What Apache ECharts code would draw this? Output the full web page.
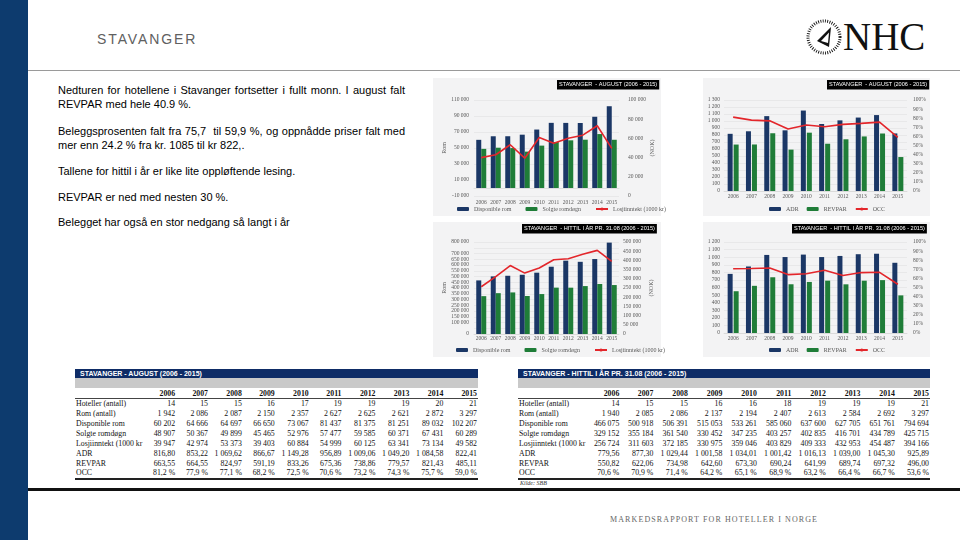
<!DOCTYPE html>
<html><head><meta charset="utf-8">
<script src="https://cdn.jsdelivr.net/npm/echarts@6/dist/echarts.min.js"></script>
<style>
body{margin:0;width:960px;height:540px;overflow:hidden;background:#fff;position:relative;font-family:'Liberation Sans',Arial,sans-serif;}
#bar{position:absolute;left:0;top:0;width:28px;height:540px;background:#0d3b6e;}
#title{position:absolute;left:97px;top:31px;font-size:14px;letter-spacing:1.9px;color:#606060;}
#hr{position:absolute;left:28px;top:70px;width:932px;height:1px;background:#9a9a9a;}
.ln{position:absolute;left:58px;width:347px;font-size:11px;line-height:14px;color:#000;white-space:nowrap;}
.j{text-align:justify;text-align-last:justify;}
#nhc{position:absolute;left:843px;top:16px;font-family:'Liberation Serif','Times New Roman',serif;font-size:41px;line-height:41px;color:#111;transform:scaleX(0.95);transform-origin:0 0;}
#logo{position:absolute;left:804px;top:17px;}
#c{position:absolute;left:0;top:0;width:960px;height:540px;}
.tb{position:absolute;}
.tb .hd{height:9px;background:#0e2c66;color:#fff;font:bold 7px 'Liberation Sans',Arial,sans-serif;line-height:9px;padding-left:5px;white-space:nowrap;}
.tb .gb{height:10px;background:#c9c9c9;}
.tb table{border-collapse:collapse;table-layout:fixed;font-family:'Liberation Serif','Times New Roman',serif;font-size:7.8px;color:#111;}
.tb td{padding:0 1px 0 1px;height:9.86px;line-height:9px;text-align:right;white-space:nowrap;overflow:visible;}
.tb td.l{text-align:left;padding-left:1px;}
.tb tr.yr td{font-weight:bold;height:10px;border-bottom:1.5px solid #444;}
.tb tr.last td{border-bottom:2px solid #222;}
#kilde{position:absolute;left:520px;top:480px;font:italic 6px 'Liberation Serif',serif;color:#333;}
#bline{position:absolute;left:28px;top:488px;width:932px;height:2.5px;background:#111;}
#foot{position:absolute;left:610px;top:515px;font-family:'Liberation Serif',serif;font-size:8px;letter-spacing:1.1px;color:#666;}
</style></head>
<body>
<div id="bar"></div>
<div id="title">STAVANGER</div>
<svg id="logo" width="40" height="40" viewBox="0 0 40 40">
  <circle cx="20" cy="20" r="16" fill="none" stroke="#111" stroke-width="3" stroke-dasharray="0.9 1.4"/>
  <polygon points="13,24 27,10 25,30" fill="#111"/>
  <polygon points="17,24 25,15.5 24,26" fill="#fff"/>
</svg>
<div id="nhc">NHC</div>
<div id="hr"></div>

<div class="ln j" style="top:83px">Nedturen for hotellene i Stavanger fortsetter i fullt monn. I august falt</div>
<div class="ln" style="top:97px">REVPAR med hele 40.9 %.</div>
<div class="ln j" style="top:124px">Beleggsprosenten falt fra 75,7&nbsp; til 59,9 %, og oppnådde priser falt med</div>
<div class="ln" style="top:138px">mer enn 24.2 % fra kr. 1085 til kr 822,.</div>
<div class="ln" style="top:164px">Tallene for hittil i år er like lite oppløftende lesing.</div>
<div class="ln" style="top:190px">REVPAR er ned med nesten 30 %.</div>
<div class="ln" style="top:215px">Belegget har også en stor nedgang så langt i år</div>

<div class="tb" id="t1" style="left:75px;top:369px;width:403px;"></div>
<div class="tb" id="t2" style="left:518px;top:369px;width:412px;"></div>
<div id="kilde">Kilde: SBB</div>
<div id="bline"></div>
<div id="foot">MARKEDSRAPPORT FOR HOTELLER I NORGE</div>

<div id="c"></div>
<script>
const years=['2006','2007','2008','2009','2010','2011','2012','2013','2014','2015'];
const rowLabels=['Hoteller (antall)','Rom (antall)','Disponible rom','Solgte romdøgn','Losjiinntekt (1000 kr','ADR','REVPAR','OCC'];
// STAVANGER - AUGUST
const augHoteller=[14,15,15,16,17,19,19,19,20,21];
const augRom=[1942,2086,2087,2150,2357,2627,2625,2621,2872,3297];
const augDisponible=[60202,64666,64697,66650,73067,81437,81375,81251,89032,102207];
const augSolgte=[48907,50367,49899,45465,52976,57477,59585,60371,67431,60289];
const augLosji=[39947,42974,53373,39403,60884,54999,60125,63341,73134,49582];
const augADR=[816.80,853.22,1069.62,866.67,1149.28,956.89,1009.06,1049.20,1084.58,822.41];
const augREVPAR=[663.55,664.55,824.97,591.19,833.26,675.36,738.86,779.57,821.43,485.11];
const augOCC=[81.2,77.9,77.1,68.2,72.5,70.6,73.2,74.3,75.7,59.0];
// STAVANGER - HITTIL I ÅR PR. 31.08
const ytdHoteller=[14,15,15,16,16,18,19,19,19,21];
const ytdRom=[1940,2085,2086,2137,2194,2407,2613,2584,2692,3297];
const ytdDisponible=[466075,500918,506391,515053,533261,585060,637600,627705,651761,794694];
const ytdSolgte=[329152,355184,361540,330452,347235,403257,402835,416701,434789,425715];
const ytdLosji=[256724,311603,372185,330975,359046,403829,409333,432953,454487,394166];
const ytdADR=[779.56,877.30,1029.44,1001.58,1034.01,1001.42,1016.13,1039.00,1045.30,925.89];
const ytdREVPAR=[550.82,622.06,734.98,642.60,673.30,690.24,641.99,689.74,697.32,496.00];
const ytdOCC=[70.6,70.9,71.4,64.2,65.1,68.9,63.2,66.4,66.7,53.6];

function sp(n,s){return String(n).replace(/\B(?=(\d{3})+(?!\d))/g,s||' ');}
function dec(n){const p=n.toFixed(2).split('.');return sp(p[0],'\u00a0')+','+p[1];}
function pct(n){return n.toFixed(1).replace('.',',')+'\u00a0%';}
function it(n){return sp(n,'\u00a0');}

function buildTable(id,title,labW,colW,rows){
  let h='<div class="hd">'+title+'</div><div class="gb"></div><table><colgroup><col style="width:'+labW+'px">';
  years.forEach(()=>h+='<col style="width:'+colW+'px">');
  h+='</colgroup><tr class="yr"><td class="l"></td>'+years.map(y=>'<td>'+y+'</td>').join('')+'</tr>';
  rows.forEach((r,i)=>{
    h+='<tr'+(i===rows.length-1?' class="last"':'')+'><td class="l">'+rowLabels[i]+'</td>'+r.map(v=>'<td>'+v+'</td>').join('')+'</tr>';
  });
  h+='</table>';
  document.getElementById(id).innerHTML=h;
}
buildTable('t1','STAVANGER - AUGUST (2006 - 2015)',51,35.2,[
  augHoteller.map(String),augRom.map(it),augDisponible.map(it),augSolgte.map(it),augLosji.map(it),
  augADR.map(dec),augREVPAR.map(dec),augOCC.map(pct)]);
buildTable('t2','STAVANGER - HITTIL I ÅR PR. 31.08 (2006 - 2015)',49,36.2,[
  ytdHoteller.map(String),ytdRom.map(it),ytdDisponible.map(it),ytdSolgte.map(it),ytdLosji.map(it),
  ytdADR.map(dec),ytdREVPAR.map(dec),ytdOCC.map(pct)]);

const NAVY='#1b3766',GREEN='#1f7d38',RED='#e3262b';
const AX={fontSize:5.5,color:'#595959',fontFamily:'Liberation Serif'};
const NM={fontSize:6,color:'#595959',fontFamily:'Liberation Serif'};
function yv(g,pos,min,max,interval,fmt,name,split,margin,gap){
  return {type:'value',gridIndex:g,position:pos,min:min,max:max,interval:interval,
    axisLine:{show:false},axisTick:{show:false},
    splitLine:{show:split,lineStyle:{color:'#e0e0e0',width:0.6}},
    axisLabel:{...AX,margin:margin,formatter:fmt,showMaxLabel:true,showMinLabel:true,hideOverlap:false},
    name:name||'',nameLocation:'middle',nameRotate:90,nameGap:gap||20,nameTextStyle:NM};
}
function xc(g,margin,zi){
  return {type:'category',gridIndex:g,data:years,axisTick:{show:false},
    axisLine:{show:true,onZero:true,onZeroAxisIndex:zi,lineStyle:{color:'#d0d0d0',width:0.6}},
    axisLabel:{...AX,margin:margin,interval:0}};
}
const num=v=>sp(v);
const pc=v=>v+'%';
function ttl(text,left,top){
  return {text:text,left:left,top:top,backgroundColor:'#000',padding:[1.5,2],itemGap:0,
    textStyle:{color:'#fff',fontSize:5.6,fontWeight:'normal',fontFamily:'Liberation Sans',lineHeight:6.5}};
}
function lg(names,left,top,gap){
  return {data:names,left:left,top:top,itemWidth:12,itemHeight:4,itemGap:gap,padding:0,
    textStyle:{fontSize:6,color:'#595959',fontFamily:'Liberation Serif'},selectedMode:false};
}
function bar(name,xi,yi,data,color,w,gap){
  return {type:'bar',name:name,xAxisIndex:xi,yAxisIndex:yi,data:data,barWidth:w,barGap:gap,
    itemStyle:{color:color},animation:false};
}
function line(name,xi,yi,data){
  return {type:'line',name:name,xAxisIndex:xi,yAxisIndex:yi,data:data,symbol:'none',
    lineStyle:{color:RED,width:1.6},itemStyle:{color:RED},animation:false,z:5};
}
const panel=(x,y,w,h)=>({type:'rect',z:-10,silent:true,shape:{x:x,y:y,width:w,height:h},style:{fill:'#f3f3f4'}});

const chart=echarts.init(document.getElementById('c'));
chart.setOption({
  animation:false,
  graphic:[panel(433,78,228,138),panel(703,78,227,138),panel(433,222,228,135),panel(703,222,227,135)],
  title:[
    ttl('STAVANGER  - AUGUST (2006 - 2015)',557,80),
    ttl('STAVANGER  - AUGUST (2006 - 2015)',827,80),
    ttl('STAVANGER  - HITTIL I ÅR PR. 31.08 (2006 - 2015)',522,224),
    ttl('STAVANGER  - HITTIL I ÅR PR. 31.08 (2006 - 2015)',792,224)
  ],
  legend:[
    lg(['Disponible rom','Solgte romdøgn','Losjiinntekt (1000 kr)'],457,206,14),
    lg(['ADR','REVPAR','OCC'],769,206,8),
    lg(['Disponible rom','Solgte romdøgn','Losjiinntekt (1000 kr)'],456,347,14),
    lg(['ADR','REVPAR','OCC'],769,347,8)
  ],
  grid:[
    {left:474,top:100,width:145,height:96},
    {left:724,top:100,width:183,height:91},
    {left:474,top:242,width:145,height:92},
    {left:724,top:242,width:183,height:91}
  ],
  xAxis:[xc(0,4,0),xc(1,3,2),xc(2,2,4),xc(3,3,6)],
  yAxis:[
    yv(0,'left',-10000,110000,20000,num,'Rom',true,5,24),
    yv(0,'right',0,100000,20000,num,'(NOK)',false,9,29),
    yv(1,'left',0,1300,100,num,'',true,4),
    yv(1,'right',0,100,10,pc,'',false,6),
    yv(2,'left',0,800000,50000,num,'Rom',true,5,24),
    yv(2,'right',0,500000,50000,num,'(NOK)',false,4,29),
    yv(3,'left',0,1200,100,num,'',true,4),
    yv(3,'right',0,100,10,pc,'',false,6)
  ],
  series:[
    bar('Disponible rom',0,0,augDisponible,NAVY,5,'0%'),
    bar('Solgte romdøgn',0,0,augSolgte,GREEN,5,'0%'),
    line('Losjiinntekt (1000 kr)',0,1,augLosji),
    bar('ADR',1,2,augADR,NAVY,5,'20%'),
    bar('REVPAR',1,2,augREVPAR,GREEN,5,'20%'),
    line('OCC',1,3,augOCC),
    bar('Disponible rom',2,4,ytdDisponible,NAVY,5,'0%'),
    bar('Solgte romdøgn',2,4,ytdSolgte,GREEN,5,'0%'),
    line('Losjiinntekt (1000 kr)',2,5,ytdLosji),
    bar('ADR',3,6,ytdADR,NAVY,5,'20%'),
    bar('REVPAR',3,6,ytdREVPAR,GREEN,5,'20%'),
    line('OCC',3,7,ytdOCC)
  ]
});
</script>
</body></html>
